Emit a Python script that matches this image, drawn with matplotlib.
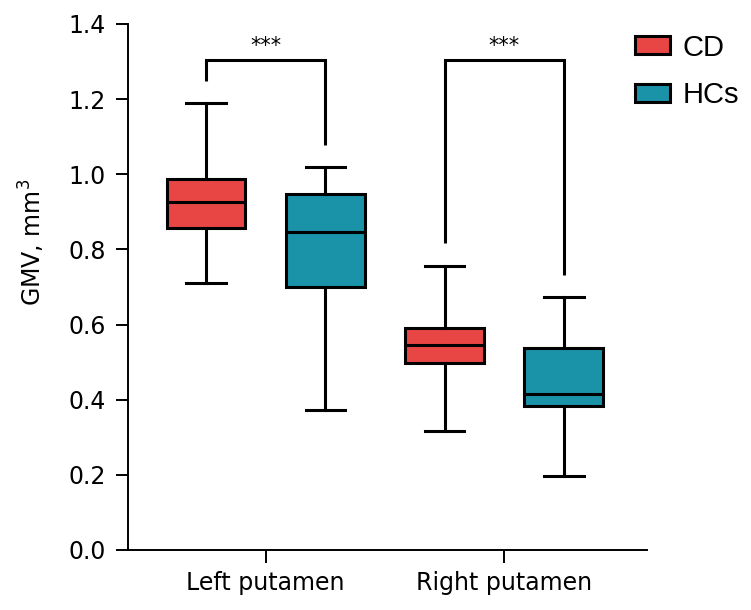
import matplotlib
matplotlib.use("Agg")
import matplotlib.pyplot as plt
from matplotlib.patches import Patch

plt.rcParams['font.family'] = ['DejaVu Sans']

# regions and groups
regions = ["Left putamen", "Right putamen"]
groups = ["CD", "HCs"]
colors = ["#E84545", "#1A92A8"]

# box stats (per region: CD, HCs)
whis_low = [[0.710, 0.372], [0.316, 0.197]]
q1 = [[0.858, 0.699], [0.497, 0.383]]
median = [[0.926, 0.847], [0.545, 0.414]]
q3 = [[0.988, 0.948], [0.592, 0.537]]
whis_high = [[1.190, 1.020], [0.757, 0.672]]

# significance brackets: top, left leg end, right leg end
bracket_top = [1.304, 1.304]
bracket_left = [1.249, 0.816]
bracket_right = [1.079, 0.733]
sig_text = ["***", "***"]

fig = plt.figure(figsize=(7.51, 6.10), dpi=100)
ax = fig.add_axes([0.1704, 0.0984, 0.6911, 0.8623])

lw = 2.2
pos = 1
for i in range(len(regions)):
    for j in range(len(groups)):
        st = [dict(med=median[i][j], q1=q1[i][j], q3=q3[i][j],
                   whislo=whis_low[i][j], whishi=whis_high[i][j], fliers=[])]
        ax.bxp(st, positions=[pos], widths=0.66, patch_artist=True,
               showfliers=False,
               boxprops=dict(facecolor=colors[j], edgecolor="black", linewidth=lw),
               medianprops=dict(color="black", linewidth=lw),
               whiskerprops=dict(color="black", linewidth=lw),
               capprops=dict(color="black", linewidth=lw),
               capwidths=0.33)
        pos += 1

# brackets
for i in range(len(regions)):
    xl = 1 + 2 * i
    xr = xl + 1
    ax.plot([xl, xl, xr, xr],
            [bracket_left[i], bracket_top[i], bracket_top[i], bracket_right[i]],
            color="black", lw=lw, solid_capstyle="butt", solid_joinstyle="miter")
    ax.text((xl + xr) / 2, bracket_top[i] + 0.012, sig_text[i],
            ha="center", va="bottom", fontsize=15)

ax.set_xlim(0.346, 4.697)
ax.set_ylim(0, 1.4)
ax.set_yticks([0.0, 0.2, 0.4, 0.6, 0.8, 1.0, 1.2, 1.4])
ax.set_yticklabels(["0.0", "0.2", "0.4", "0.6", "0.8", "1.0", "1.2", "1.4"])
ax.set_xticks([1.5, 3.5])
ax.set_xticklabels(regions)
ax.tick_params(axis="x", length=9, width=1.4, pad=6, labelsize=17)
ax.tick_params(axis="y", length=9, width=1.4, pad=7, labelsize=17)

for s in ["top", "right"]:
    ax.spines[s].set_visible(False)
for s in ["left", "bottom"]:
    ax.spines[s].set_linewidth(1.4)

ax.set_ylabel("GMV, mm$^3$", fontsize=17)
ax.yaxis.set_label_coords(-0.156, 0.584)

handles = [Patch(facecolor=c, edgecolor="black", linewidth=lw) for c in colors]
fig.legend(handles, groups, loc="upper left", bbox_to_anchor=(0.845, 0.945),
           frameon=False, borderpad=0, borderaxespad=0,
           prop={"family": "Liberation Sans", "size": 21},
           handlelength=1.2, handleheight=0.55,
           handletextpad=0.45, labelspacing=0.68)

fig.savefig("out.png", dpi=100)
